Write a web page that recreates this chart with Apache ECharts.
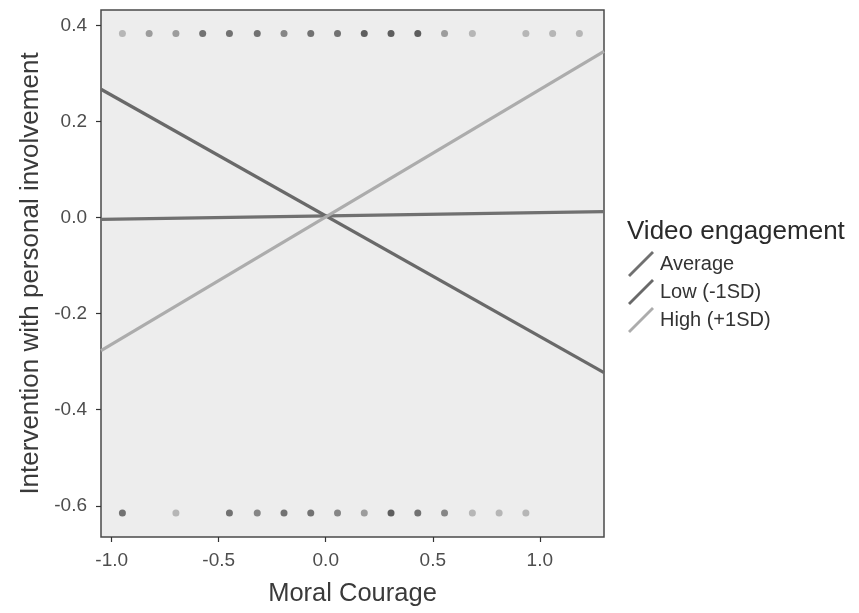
<!DOCTYPE html>
<html>
<head>
<meta charset="utf-8">
<script src="https://cdn.jsdelivr.net/npm/echarts@6/dist/echarts.min.js"></script>
<style>
html,body{margin:0;padding:0;background:#fff;}
#c{width:859px;height:613px;}
</style>
</head>
<body>
<div id="c"></div>
<script>
// ---- data ----
var xTicks = [-1.0, -0.5, 0.0, 0.5, 1.0];
var yTicks = [-0.6, -0.4, -0.2, 0.0, 0.2, 0.4];

// observed points (overlapping counts shown as darker dots)
var topY = 0.383;
var topX = [-0.95, -0.825, -0.70, -0.575, -0.45, -0.32, -0.195, -0.07, 0.055, 0.18, 0.305, 0.43, 0.555, 0.685, 0.935, 1.06, 1.185];
var topCount = [1, 2, 2, 4, 4, 4, 3, 4, 4, 5, 5, 5, 2, 1, 1, 1, 1];
var bottomY = -0.615;
var bottomX = [-0.95, -0.70, -0.45, -0.32, -0.195, -0.07, 0.055, 0.18, 0.305, 0.43, 0.555, 0.685, 0.81, 0.935];
var bottomCount = [4, 1, 4, 3, 4, 4, 3, 2, 5, 4, 3, 1, 1, 1];

// simple slopes (endpoints at the axis extent)
var lineX = [-1.05, 1.30];
var avgY = [-0.004, 0.0125];
var lowY = [0.267, -0.323];
var highY = [-0.277, 0.346];

var seriesNames = ['Average', 'Low (-1SD)', 'High (+1SD)'];

// ---- build ----
function pts(xs, y, counts) {
  return xs.map(function (x, i) { return [x, y, counts[i]]; });
}
function line(ys) {
  return lineX.map(function (x, i) { return [x, ys[i]]; });
}
var shade = {1: '#a8a8a8', 2: '#878787', 3: '#6c6c6c', 4: '#525252', 5: '#3a3a3a'};

var chart = echarts.init(document.getElementById('c'), null, {renderer: 'canvas'});
var font = 'Liberation Sans, Arial, sans-serif';
var icon = 'path://M2,26 L0,24 L24,0 L26,2 Z';

chart.setOption({
  animation: false,
  backgroundColor: '#ffffff',
  textStyle: {fontFamily: font},
  title: {
    text: 'Video engagement',
    left: 627, top: 219, padding: 0,
    textStyle: {fontSize: 26, fontWeight: 'normal', color: '#2a2a2a', fontFamily: font}
  },
  legend: {
    orient: 'vertical',
    left: 628, top: 251, padding: 0,
    itemWidth: 26, itemHeight: 26, itemGap: 2,
    icon: icon,
    data: seriesNames,
    textStyle: {fontSize: 20, color: '#333', fontFamily: font, padding: [0, 0, 0, 1]}
  },
  grid: {
    left: 101, right: 255, top: 10, bottom: 76,
    show: true, backgroundColor: '#ededed',
    borderColor: '#4a4a4a', borderWidth: 1.5
  },
  xAxis: {
    type: 'value', min: -1.05, max: 1.30,
    name: 'Moral Courage', nameLocation: 'middle', nameGap: 44,
    nameTextStyle: {fontSize: 25.5, color: '#3a3a3a', fontFamily: font},
    axisLine: {show: false, onZero: false},
    splitLine: {show: false},
    axisTick: {show: true, length: 5, customValues: xTicks, lineStyle: {color: '#333', width: 1.2}},
    axisLabel: {customValues: xTicks, margin: 14, fontSize: 19, color: '#4d4d4d', fontFamily: font,
      formatter: function (v) { return v.toFixed(1); }}
  },
  yAxis: {
    type: 'value', min: -0.665, max: 0.432,
    name: 'Intervention with personal involvement', nameLocation: 'middle', nameGap: 57,
    nameTextStyle: {fontSize: 26, color: '#3a3a3a', fontFamily: font},
    axisLine: {show: false, onZero: false},
    splitLine: {show: false},
    axisTick: {show: true, length: 5, customValues: yTicks, lineStyle: {color: '#333', width: 1.2}},
    axisLabel: {customValues: yTicks, margin: 14, fontSize: 19, color: '#4d4d4d', fontFamily: font,
      formatter: function (v) { return v.toFixed(1); }}
  },
  series: [
    {
      type: 'scatter', name: 'pts', symbol: 'circle', symbolSize: 7, silent: true,
      data: pts(topX, topY, topCount).concat(pts(bottomX, bottomY, bottomCount)),
      itemStyle: {color: function (p) { return shade[p.data[2]]; }}
    },
    {
      type: 'line', name: seriesNames[0], data: line(avgY), symbol: 'none',
      color: '#707070', lineStyle: {width: 3.2, color: '#707070'}
    },
    {
      type: 'line', name: seriesNames[1], data: line(lowY), symbol: 'none',
      color: '#696969', lineStyle: {width: 3.2, color: '#696969'}
    },
    {
      type: 'line', name: seriesNames[2], data: line(highY), symbol: 'none',
      color: '#acacac', lineStyle: {width: 3.2, color: '#acacac'}
    }
  ]
});
</script>
</body>
</html>
